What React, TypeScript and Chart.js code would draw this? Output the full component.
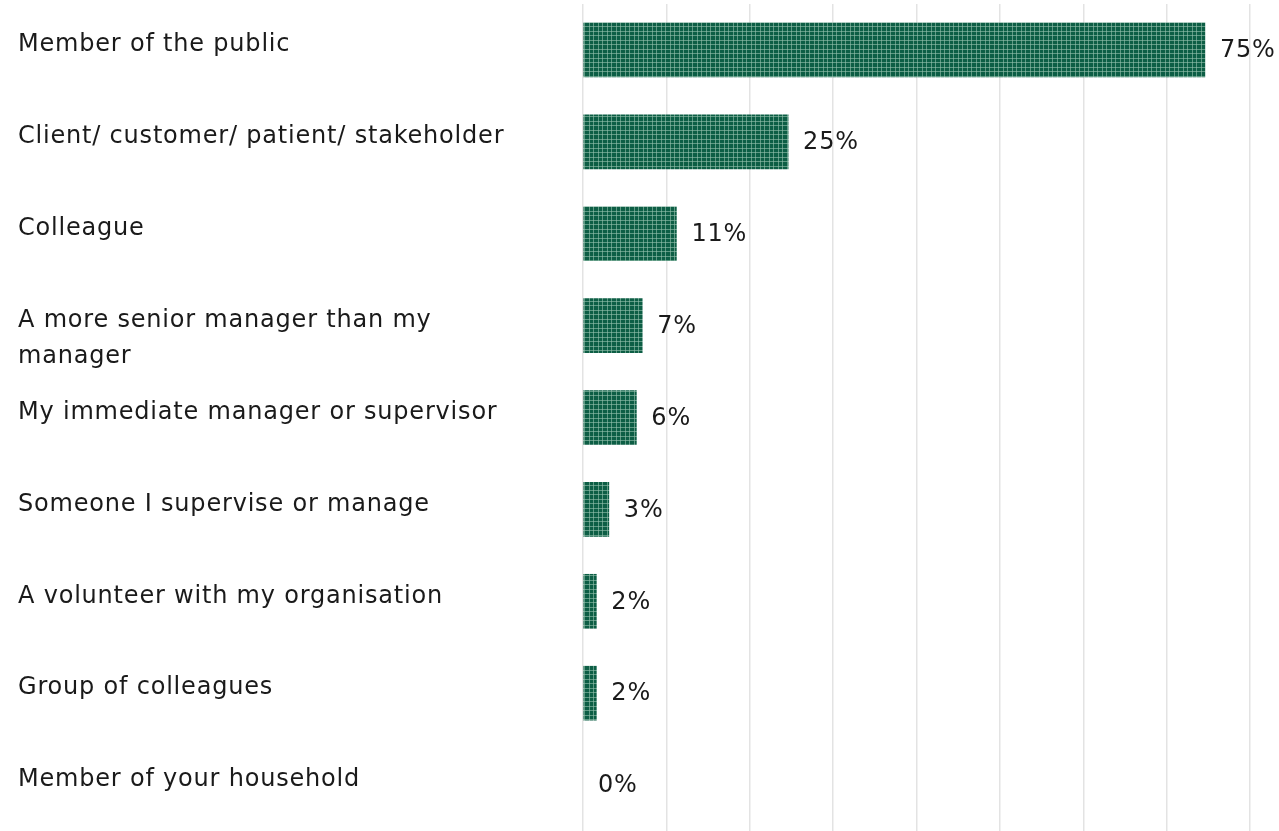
import React, { useEffect, useRef } from "react";
import { Chart, registerables } from "chart.js";

Chart.register(...registerables);

const categories: (string | string[])[] = [
  "Member of the public",
  "Client/ customer/ patient/ stakeholder",
  "Colleague",
  ["A more senior manager than my", "manager"],
  "My immediate manager or supervisor",
  "Someone I supervise or manage",
  "A volunteer with my organisation",
  "Group of colleagues",
  "Member of your household",
];
const values = [74.6, 24.6, 11.2, 7.1, 6.4, 3.1, 1.6, 1.6, 0];
const valueLabels = ["75%", "25%", "11%", "7%", "6%", "3%", "2%", "2%", "0%"];

const FONT = '"DejaVu Sans", sans-serif';
const FONT_SIZE = 24;
const TEXT_COLOR = "#1a1a1a";

function makePattern(): CanvasPattern | string {
  const c = document.createElement("canvas");
  c.width = 9;
  c.height = 9;
  const g = c.getContext("2d");
  if (!g) return "#0d5e45";
  g.fillStyle = "#0d5e45";
  g.fillRect(0, 0, 9, 9);
  g.fillStyle = "rgba(150,195,175,0.6)";
  g.fillRect(4, 0, 1, 9);
  g.fillRect(8, 0, 1, 9);
  g.fillRect(0, 4, 9, 1);
  g.fillRect(0, 8, 9, 1);
  const p = g.createPattern(c, "repeat");
  return p || "#0d5e45";
}

const labelPlugin = {
  id: "customLabels",
  afterDatasetsDraw(chart: any) {
    const ctx = chart.ctx as CanvasRenderingContext2D;
    const meta = chart.getDatasetMeta(0);
    ctx.save();
    ctx.font = `${FONT_SIZE}px ${FONT}`;
    (ctx as any).letterSpacing = "0.8px";
    ctx.fillStyle = TEXT_COLOR;
    ctx.textBaseline = "middle";
    meta.data.forEach((bar: any, i: number) => {
      ctx.textAlign = "left";
      ctx.fillText(valueLabels[i], bar.x + 15, bar.y + 1);
      const lab = categories[i];
      const lines = Array.isArray(lab) ? lab : [lab];
      lines.forEach((ln, j) => {
        ctx.fillText(ln, 18, bar.y - 5 + j * 36);
      });
    });
    ctx.restore();
  },
};

export default function App() {
  const ref = useRef<HTMLCanvasElement | null>(null);
  useEffect(() => {
    if (!ref.current) return;
    const pattern = makePattern();
    const chart = new Chart(ref.current, {
      type: "bar",
      data: {
        labels: categories as any,
        datasets: [
          {
            data: values,
            backgroundColor: (c: any) => (values[c.dataIndex] === 0 ? "rgba(0,0,0,0)" : pattern) as any,
            borderWidth: 0,
            barThickness: 54,
          },
        ],
      },
      options: {
        indexAxis: "y",
        animation: false,
        responsive: false,
        maintainAspectRatio: false,
        layout: { padding: { left: 583, right: 29, top: 4, bottom: 0 } },
        plugins: {
          legend: { display: false },
          tooltip: { enabled: false },
        },
        scales: {
          x: {
            min: 0,
            max: 80,
            ticks: { display: false, stepSize: 10 },
            grid: { color: "#e3e3e3", lineWidth: 1.5, drawTicks: false },
            border: { display: false },
          },
          y: {
            ticks: { display: false },
            grid: { display: false, drawTicks: false },
            border: { display: false },
          },
        },
      },
      plugins: [labelPlugin],
    });
    return () => chart.destroy();
  }, []);
  return (
    <div style={{ position: "absolute", left: 0, top: 0, width: 1279, height: 831, background: "#fff" }}>
      <canvas ref={ref} width={1279} height={831} style={{ width: 1279, height: 831, display: "block" }} />
    </div>
  );
}
